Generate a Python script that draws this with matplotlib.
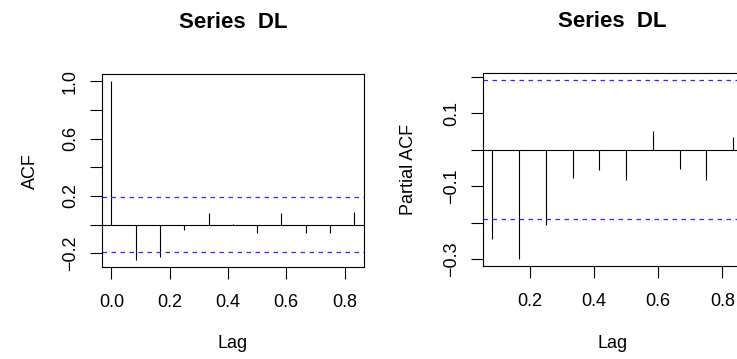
import numpy as np
from matplotlib import pyplot as plt

plt.rcParams['font.family'] = ['Liberation Sans', 'DejaVu Sans']

# ACF of DL (monthly series, lag in years)
acf_lag = np.arange(0, 11) / 12
acf_val = [1.0, -0.248, -0.223, -0.041, 0.080, 0.007, -0.062, 0.080, -0.062, -0.062, 0.087]

# PACF of DL
pacf_lag = np.arange(1, 11) / 12
pacf_val = [-0.244, -0.299, -0.207, -0.077, -0.055, -0.082, 0.051, -0.052, -0.082, 0.035]

clim = 0.190
title = 'Series  DL'

W, H = 737, 359
fig = plt.figure(figsize=(W / 100, H / 100), dpi=100)


def add_axes_px(x0, x1, y0, y1):
    return fig.add_axes([x0 / W, 1 - y1 / H, (x1 - x0) / W, (y1 - y0) / H])


def style(ax, box_px, yticks, ylabels, xticks, ylabel):
    x0, x1, y0, y1 = box_px
    ax.set_yticks(yticks)
    ax.set_yticklabels(ylabels, rotation=90, va='center')
    ax.set_xticks(xticks)
    ax.set_xticklabels([f'{t:.1f}' for t in xticks])
    ax.tick_params(direction='out', length=8.4, width=0.8, labelsize=13, pad=8)
    ax.tick_params(axis='x', pad=11)
    for s in ax.spines.values():
        s.set_linewidth(0.8)
    ax.set_title(title, fontsize=16, fontweight='bold', pad=33)
    ax.set_xlabel('Lag', fontsize=13)
    ax.set_ylabel(ylabel, fontsize=13)
    ax.xaxis.set_label_coords(0.5, (y1 - 334.5) / (y1 - y0))


def padded(lo, hi):
    d = (hi - lo) * 0.04
    return lo - d, hi + d


# left: ACF
box1 = (101.7, 364, 74, 267.3)
ax1 = add_axes_px(*box1)
ax1.vlines(acf_lag, 0, acf_val, color='k', lw=0.8)
ax1.axhline(0, color='k', lw=0.8)
for c in (clim, -clim):
    ax1.axhline(c, color='#2b2bff', lw=0.9, ls=(0, (3.6, 3.6)))
ax1.set_xlim(*padded(0, 10 / 12))
ax1.set_ylim(*padded(min(min(acf_val), -clim), 1.0))
style(ax1, box1, [-0.2, 0.0, 0.2, 0.4, 0.6, 0.8, 1.0],
      ['\u22120.2', '', '0.2', '', '0.6', '', '1.0'],
      [0.0, 0.2, 0.4, 0.6, 0.8], 'ACF')
ax1.yaxis.set_label_coords((39 - box1[0]) / (box1[1] - box1[0]), 0.5)

# right: PACF (box runs past the image edge, as in the reference)
box2 = (482.7, 742.8, 73.3, 265.7)
ax2 = add_axes_px(*box2)
ax2.vlines(pacf_lag, 0, pacf_val, color='k', lw=0.8)
ax2.axhline(0, color='k', lw=0.8)
for c in (clim, -clim):
    ax2.axhline(c, color='#2b2bff', lw=0.9, ls=(0, (3.6, 3.6)))
ax2.set_xlim(*padded(1 / 12, 10 / 12))
ax2.set_ylim(*padded(min(min(pacf_val), -clim), max(max(pacf_val), clim)))
style(ax2, box2, [-0.3, -0.2, -0.1, 0.0, 0.1, 0.2],
      ['\u22120.3', '', '\u22120.1', '', '0.1', ''],
      [0.2, 0.4, 0.6, 0.8], 'Partial ACF')
ax2.yaxis.set_label_coords((417 - box2[0]) / (box2[1] - box2[0]), 0.5)

fig.savefig('out.png', dpi=100)
